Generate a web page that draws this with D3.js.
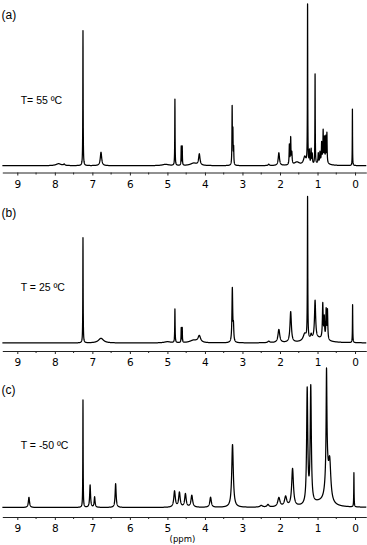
<!DOCTYPE html>
<html>
<head>
<meta charset="utf-8">
<script src="https://cdn.jsdelivr.net/npm/d3@7"></script>
<style>
  body { margin: 0; background: #fff; }
  svg { display: block; }
</style>
</head>
<body>
<div id="chart"></div>
<script>
// tick labels (ppm)
const majorTicks = [9, 8, 7, 6, 5, 4, 3, 2, 1, 0];
const minorTicks = [8.5, 7.5, 6.5, 5.5, 4.5, 3.5, 2.5, 1.5, 0.5];
const ppmDomain = [9.4, -0.3];

const panelLabels = ["(a)", "(b)", "(c)"];
const tempLabels = ["T= 55 \u00baC", "T = 25 \u00baC", "T = -50 \u00baC"];

// peaks: [shift ppm, height (tallest = 100), half width ppm]
const peaksA = [
  [7.90, 1.2, 0.08], [7.75, 0.8, 0.02], [7.25, 82.5, 0.005], [6.77, 8.2, 0.022],
  [5.05, 0.8, 0.1], [4.80, 40.5, 0.005], [4.632, 11.5, 0.005], [4.605, 11.5, 0.005],
  [4.30, 1.5, 0.1], [4.15, 6.8, 0.022],
  [3.275, 35, 0.006], [3.255, 20, 0.006], [3.235, 10, 0.006],
  [2.30, 0.8, 0.02], [2.03, 7.8, 0.02],
  [1.75, 12, 0.008], [1.715, 16, 0.008], [1.685, 7, 0.01], [1.55, 2, 0.08],
  [1.34, 5, 0.04], [1.265, 97, 0.005], [1.215, 8, 0.008], [1.17, 9, 0.008], [1.14, 6, 0.008],
  [1.065, 55, 0.005], [0.98, 6, 0.008], [0.935, 6, 0.008], [0.89, 11, 0.008],
  [0.85, 18, 0.007], [0.815, 14, 0.007], [0.78, 15, 0.007], [0.75, 18, 0.007],
  [0.86, 3, 0.1],
  [0.07, 34.5, 0.004]
];

const peaksB = [
  [7.25, 72, 0.005], [6.77, 3.2, 0.08], [5.0, 0.8, 0.1],
  [4.80, 23, 0.006], [4.632, 10, 0.005], [4.605, 10, 0.005],
  [4.30, 1.8, 0.12], [4.15, 4.5, 0.04],
  [3.27, 37, 0.012], [3.24, 10, 0.01],
  [2.30, 1, 0.03], [2.03, 9, 0.028], [1.715, 21, 0.022],
  [1.34, 5, 0.05], [1.265, 97, 0.006], [1.17, 3, 0.02],
  [1.065, 26, 0.018], [0.86, 24, 0.012], [0.82, 14, 0.01],
  [0.77, 20, 0.01], [0.735, 20, 0.01], [1.0, 3, 0.25],
  [0.065, 26, 0.005]
];

const peaksC = [
  [8.69, 7.3, 0.018], [7.25, 77, 0.005], [7.06, 16, 0.014], [6.94, 7.5, 0.014],
  [6.38, 17, 0.016],
  [4.81, 11.5, 0.024], [4.68, 10.5, 0.024], [4.52, 9.5, 0.024], [4.35, 8.5, 0.026],
  [3.85, 7.2, 0.024], [3.265, 45, 0.025],
  [2.50, 1.2, 0.04], [2.32, 1.8, 0.03],
  [2.03, 6.5, 0.035], [1.85, 7, 0.035], [1.665, 27, 0.028],
  [1.275, 82, 0.018], [1.18, 83, 0.018], [0.95, 3, 0.25],
  [0.76, 70, 0.012], [0.75, 25, 0.05], [0.675, 26, 0.035],
  [0.03, 24.5, 0.005]
];

const panels = [
  { peaks: peaksA, axisY: 172.5, baseY: 165.7, topY: 2, labelY: 18.5, tempY: 104 },
  { peaks: peaksB, axisY: 351, baseY: 343, topY: 197, labelY: 216.5, tempY: 290.5 },
  { peaks: peaksC, axisY: 517, baseY: 507.5, topY: 368, labelY: 393.5, tempY: 449 }
];

const width = 367, height = 545;

const svg = d3.select("#chart").append("svg")
  .attr("width", width)
  .attr("height", height);

const x = d3.scaleLinear().domain(ppmDomain).range([2.3, 366.3]);

// sample grid in ppm, plus the peak centres so the tops are hit
let spectrum = (peaks) => {
  const grid = d3.range(ppmDomain[1], ppmDomain[0], 0.002).concat(peaks.map(p => p[0]));
  grid.sort((a, b) => b - a);
  return grid.map(s => {
    let v = 0;
    peaks.forEach(([c, h, w]) => { v += h * w * w / ((s - c) * (s - c) + w * w); });
    return { ppm: s, value: v };
  });
};

panels.forEach((p, i) => {
  const y = d3.scaleLinear().domain([0, 100]).range([p.baseY, p.topY]);
  const g = svg.append("g");

  g.append("path")
    .datum(spectrum(p.peaks))
    .attr("fill", "none")
    .attr("stroke", "#000")
    .attr("stroke-width", 1.25)
    .attr("stroke-linejoin", "round")
    .attr("d", d3.line()
      .x(d => x(d.ppm))
      .y(d => y(d.value)));

  const ax = g.append("g")
    .attr("transform", `translate(0,${p.axisY})`)
    .call(d3.axisBottom(x).tickValues(majorTicks).tickSize(3).tickSizeOuter(0).tickPadding(5).tickFormat(d3.format("d")));
  ax.select(".domain").attr("stroke", "#222").attr("stroke-width", 1);
  ax.selectAll(".tick line").attr("stroke", "#222");
  ax.selectAll(".tick text")
    .attr("font-family", "DejaVu Sans")
    .attr("font-size", 10.5)
    .attr("fill", "#000");

  g.append("g")
    .attr("transform", `translate(0,${p.axisY})`)
    .selectAll("line")
    .data(minorTicks)
    .join("line")
    .attr("x1", d => x(d)).attr("x2", d => x(d))
    .attr("y1", 0).attr("y2", 2)
    .attr("stroke", "#222");

  svg.append("text")
    .attr("x", 1.5).attr("y", p.labelY)
    .attr("font-family", "Liberation Sans, Arial")
    .attr("font-size", 12)
    .attr("fill", "#000")
    .text(panelLabels[i]);

  svg.append("text")
    .attr("x", 20.7).attr("y", p.tempY)
    .attr("font-family", "Liberation Sans, Arial")
    .attr("font-size", 10.5)
    .attr("fill", "#000")
    .text(tempLabels[i]);
});

svg.append("text")
  .attr("x", x(4.6)).attr("y", 542)
  .attr("text-anchor", "middle")
  .attr("font-family", "DejaVu Sans")
  .attr("font-size", 8.5)
  .attr("fill", "#000")
  .text("(ppm)");
</script>
</body>
</html>
